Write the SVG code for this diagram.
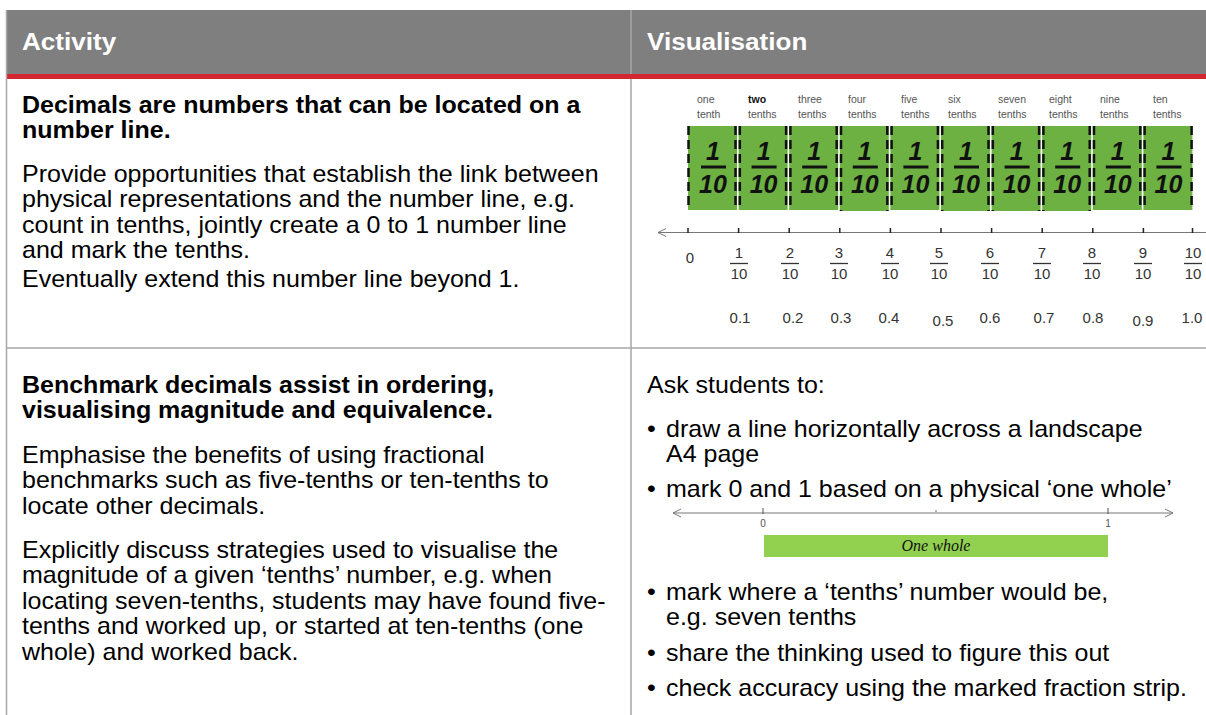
<svg xmlns="http://www.w3.org/2000/svg" width="1206" height="715" viewBox="0 0 1206 715">
<defs>
<style>
.body{font-family:"Liberation Sans",Arial,sans-serif;font-size:23px;fill:#000}
.bold{font-weight:bold}
.hdr{font-family:"Liberation Sans",Arial,sans-serif;font-size:24px;font-weight:bold;fill:#fff}
.lbl{font-family:"Liberation Sans",Arial,sans-serif;font-size:10.5px;fill:#555}
.num{font-family:"Liberation Sans",Arial,sans-serif;font-size:15px;fill:#333;text-anchor:middle}
.hand{font-family:"Liberation Sans",Arial,sans-serif;font-size:25px;font-weight:bold;font-style:italic;fill:#111;text-anchor:middle}
.strip{fill:#6cb142}
.dash{stroke:#111;stroke-width:2.5;stroke-dasharray:9 5;fill:none}
.grid{stroke:#a6a6a6;stroke-width:1.5;fill:none}
.fbar{stroke:#333;stroke-width:1.3}
.tick{stroke:#222;stroke-width:1.5}
</style>
<marker id="openL" markerWidth="10" markerHeight="10" refX="1" refY="5" orient="auto" markerUnits="userSpaceOnUse">
<path d="M9,1 L1,5 L9,9" fill="none" stroke="#777" stroke-width="1"/>
</marker>
<marker id="openR" markerWidth="10" markerHeight="10" refX="9" refY="5" orient="auto" markerUnits="userSpaceOnUse">
<path d="M1,1 L9,5 L1,9" fill="none" stroke="#777" stroke-width="1"/>
</marker>
</defs>
<rect width="1206" height="715" fill="#fff"/>

<g id="header">
<rect x="6" y="10" width="1200" height="64" fill="#7f7f7f"/>
<rect x="6" y="74" width="1200" height="5" fill="#d22630"/>
<g transform="scale(1.087,1)">
<text class="hdr" x="20.24" y="50">Activity</text>
<text class="hdr" x="595.2" y="50">Visualisation</text>
</g>
</g>

<g id="table-lines">
<line class="grid" x1="6.5" y1="10" x2="6.5" y2="715"/>
<line class="grid" x1="631" y1="10" x2="631" y2="74"/>
<line class="grid" x1="631" y1="79" x2="631" y2="715"/>
<line class="grid" x1="6" y1="348" x2="1206" y2="348"/>
</g>

<g id="row1-activity" class="body" transform="scale(1.087,1)">
<text class="bold" x="20.24" y="113">Decimals are numbers that can be located on a</text>
<text class="bold" x="20.24" y="138.5">number line.</text>
<text x="20.24" y="182">Provide opportunities that establish the link between</text>
<text x="20.24" y="207.5">physical representations and the number line, e.g.</text>
<text x="20.24" y="233">count in tenths, jointly create a 0 to 1 number line</text>
<text x="20.24" y="258.5">and mark the tenths.</text>
<text x="20.24" y="287.5">Eventually extend this number line beyond 1.</text>
</g>

<g id="row1-visual">
<g id="word-labels" class="lbl">
<text x="697" y="103">one</text><text x="697" y="118">tenth</text>
<text x="748" y="103" style="fill:#111;font-weight:bold">two</text><text x="748" y="118">tenths</text>
<text x="798" y="103">three</text><text x="798" y="118">tenths</text>
<text x="848" y="103">four</text><text x="848" y="118">tenths</text>
<text x="901" y="103">five</text><text x="901" y="118">tenths</text>
<text x="948" y="103">six</text><text x="948" y="118">tenths</text>
<text x="998" y="103">seven</text><text x="998" y="118">tenths</text>
<text x="1049" y="103">eight</text><text x="1049" y="118">tenths</text>
<text x="1100" y="103">nine</text><text x="1100" y="118">tenths</text>
<text x="1153" y="103">ten</text><text x="1153" y="118">tenths</text>
</g>
<g id="strips">
<rect class="strip" x="688" y="126" width="49" height="84"/>
<rect class="strip" x="738.6" y="126" width="49" height="84"/>
<rect class="strip" x="789.2" y="126" width="49" height="84"/>
<rect class="strip" x="839.8" y="126" width="49" height="85"/>
<rect class="strip" x="890.4" y="126" width="49" height="84"/>
<rect class="strip" x="941" y="126" width="49" height="85"/>
<rect class="strip" x="991.6" y="126" width="49" height="85"/>
<rect class="strip" x="1042.2" y="126" width="49" height="85"/>
<rect class="strip" x="1092.8" y="126" width="49" height="84"/>
<rect class="strip" x="1143.4" y="126" width="49" height="84"/>
<g class="dash">
<line x1="688.5" y1="126" x2="688.5" y2="210"/>
<line x1="735.5" y1="126" x2="735.5" y2="210"/><line x1="739.8" y1="126" x2="739.8" y2="210"/>
<line x1="786.1" y1="126" x2="786.1" y2="210"/><line x1="790.4" y1="126" x2="790.4" y2="210"/>
<line x1="836.7" y1="126" x2="836.7" y2="210"/><line x1="841" y1="126" x2="841" y2="211"/>
<line x1="887.3" y1="126" x2="887.3" y2="211"/><line x1="891.6" y1="126" x2="891.6" y2="210"/>
<line x1="937.9" y1="126" x2="937.9" y2="210"/><line x1="942.2" y1="126" x2="942.2" y2="211"/>
<line x1="988.5" y1="126" x2="988.5" y2="211"/><line x1="992.8" y1="126" x2="992.8" y2="211"/>
<line x1="1039.1" y1="126" x2="1039.1" y2="211"/><line x1="1043.4" y1="126" x2="1043.4" y2="211"/>
<line x1="1089.7" y1="126" x2="1089.7" y2="211"/><line x1="1094" y1="126" x2="1094" y2="210"/>
<line x1="1140.3" y1="126" x2="1140.3" y2="210"/><line x1="1144.6" y1="126" x2="1144.6" y2="210"/>
<line x1="1191.6" y1="126" x2="1191.6" y2="210"/>
</g>
<g class="hand">
<text x="713" y="160">1</text><text x="713" y="193">10</text>
<text x="763.6" y="160">1</text><text x="763.6" y="193">10</text>
<text x="814.2" y="160">1</text><text x="814.2" y="193">10</text>
<text x="864.8" y="160">1</text><text x="864.8" y="193">10</text>
<text x="915.4" y="160">1</text><text x="915.4" y="193">10</text>
<text x="966" y="160">1</text><text x="966" y="193">10</text>
<text x="1016.6" y="160">1</text><text x="1016.6" y="193">10</text>
<text x="1067.2" y="160">1</text><text x="1067.2" y="193">10</text>
<text x="1117.8" y="160">1</text><text x="1117.8" y="193">10</text>
<text x="1168.4" y="160">1</text><text x="1168.4" y="193">10</text>
</g>
<g stroke="#111" stroke-width="3">
<line x1="701" y1="167" x2="726" y2="167"/>
<line x1="751.6" y1="167" x2="776.6" y2="167"/>
<line x1="802.2" y1="167" x2="827.2" y2="167"/>
<line x1="852.8" y1="167" x2="877.8" y2="167"/>
<line x1="903.4" y1="167" x2="928.4" y2="167"/>
<line x1="954" y1="167" x2="979" y2="167"/>
<line x1="1004.6" y1="167" x2="1029.6" y2="167"/>
<line x1="1055.2" y1="167" x2="1080.2" y2="167"/>
<line x1="1105.8" y1="167" x2="1130.8" y2="167"/>
<line x1="1156.4" y1="167" x2="1181.4" y2="167"/>
</g>
</g>
<g id="number-line">
<line x1="658" y1="232.5" x2="1206" y2="232.5" stroke="#777" stroke-width="1" marker-start="url(#openL)"/>
<g class="tick">
<line x1="688" y1="228" x2="688" y2="233"/><line x1="738.6" y1="228" x2="738.6" y2="233"/>
<line x1="789.2" y1="228" x2="789.2" y2="233"/><line x1="839.8" y1="228" x2="839.8" y2="233"/>
<line x1="890.4" y1="228" x2="890.4" y2="233"/><line x1="941" y1="228" x2="941" y2="233"/>
<line x1="991.6" y1="228" x2="991.6" y2="233"/><line x1="1042.2" y1="228" x2="1042.2" y2="233"/>
<line x1="1092.8" y1="228" x2="1092.8" y2="233"/><line x1="1143.4" y1="228" x2="1143.4" y2="233"/>
<line x1="1192.5" y1="228" x2="1192.5" y2="233"/>
</g>
</g>
<g id="fractions" class="num">
<text x="690" y="263">0</text>
<text x="739" y="258">1</text><text x="739" y="279">10</text>
<text x="790" y="258">2</text><text x="790" y="279">10</text>
<text x="839" y="258">3</text><text x="839" y="279">10</text>
<text x="890" y="258">4</text><text x="890" y="279">10</text>
<text x="939" y="258">5</text><text x="939" y="279">10</text>
<text x="990" y="258">6</text><text x="990" y="279">10</text>
<text x="1042" y="258">7</text><text x="1042" y="279">10</text>
<text x="1092" y="258">8</text><text x="1092" y="279">10</text>
<text x="1143" y="258">9</text><text x="1143" y="279">10</text>
<text x="1193" y="258">10</text><text x="1193" y="279">10</text>
</g>
<g class="fbar">
<line x1="730" y1="263.5" x2="748" y2="263.5"/><line x1="781" y1="263.5" x2="799" y2="263.5"/>
<line x1="830" y1="263.5" x2="848" y2="263.5"/><line x1="881" y1="263.5" x2="899" y2="263.5"/>
<line x1="930" y1="263.5" x2="948" y2="263.5"/><line x1="981" y1="263.5" x2="999" y2="263.5"/>
<line x1="1033" y1="263.5" x2="1051" y2="263.5"/><line x1="1083" y1="263.5" x2="1101" y2="263.5"/>
<line x1="1134" y1="263.5" x2="1152" y2="263.5"/><line x1="1184" y1="263.5" x2="1202" y2="263.5"/>
</g>
<g id="decimals" class="num">
<text x="740" y="323">0.1</text>
<text x="793" y="323">0.2</text>
<text x="841" y="323">0.3</text>
<text x="889" y="323">0.4</text>
<text x="943" y="326">0.5</text>
<text x="990" y="323">0.6</text>
<text x="1044" y="323">0.7</text>
<text x="1093" y="323">0.8</text>
<text x="1143" y="326">0.9</text>
<text x="1192" y="323">1.0</text>
</g>
</g>

<g id="row2-activity" class="body" transform="scale(1.087,1)">
<text class="bold" x="20.24" y="393">Benchmark decimals assist in ordering,</text>
<text class="bold" x="20.24" y="418.5">visualising magnitude and equivalence.</text>
<text x="20.24" y="463">Emphasise the benefits of using fractional</text>
<text x="20.24" y="488.5">benchmarks such as five-tenths or ten-tenths to</text>
<text x="20.24" y="514">locate other decimals.</text>
<text x="20.24" y="558">Explicitly discuss strategies used to visualise the</text>
<text x="20.24" y="583.5">magnitude of a given ‘tenths’ number, e.g. when</text>
<text x="20.24" y="609">locating seven-tenths, students may have found five-</text>
<text x="20.24" y="634.5">tenths and worked up, or started at ten-tenths (one</text>
<text x="20.24" y="660">whole) and worked back.</text>
</g>

<g id="row2-visual">
<g class="body" transform="scale(1.087,1)">
<text x="595.2" y="393">Ask students to:</text>
<text x="595.2" y="437">•</text><text x="612.7" y="437">draw a line horizontally across a landscape</text>
<text x="612.7" y="462.5">A4 page</text>
<text x="595.2" y="497">•</text><text x="612.7" y="497">mark 0 and 1 based on a physical ‘one whole’</text>
<text x="595.2" y="600">•</text><text x="612.7" y="600">mark where a ‘tenths’ number would be,</text>
<text x="612.7" y="625.5">e.g. seven tenths</text>
<text x="595.2" y="661">•</text><text x="612.7" y="661">share the thinking used to figure this out</text>
<text x="595.2" y="696">•</text><text x="612.7" y="696">check accuracy using the marked fraction strip.</text>
</g>
<g id="one-whole-line">
<line x1="673" y1="513" x2="1173" y2="513" stroke="#777" stroke-width="1" marker-start="url(#openL)" marker-end="url(#openR)"/>
<line x1="763" y1="508" x2="763" y2="514" stroke="#555" stroke-width="1"/>
<line x1="1108" y1="508" x2="1108" y2="514" stroke="#555" stroke-width="1"/>
<circle cx="936" cy="511" r="0.8" fill="#555"/>
<text class="lbl" x="763" y="527" text-anchor="middle" style="font-size:10px">0</text>
<text class="lbl" x="1108" y="527" text-anchor="middle" style="font-size:10px">1</text>
<rect x="764" y="535" width="344" height="22" fill="#92d050"/>
<text x="936" y="551" text-anchor="middle" style="font-family:'Liberation Serif',serif;font-style:italic;font-size:16px;fill:#111">One whole</text>
</g>
</g>
</svg>
